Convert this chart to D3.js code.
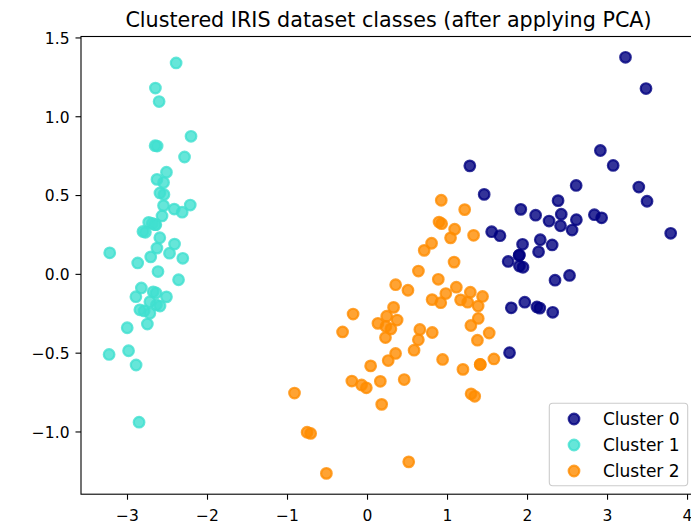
<!DOCTYPE html>
<html>
<head>
<meta charset="utf-8">
<script src="https://cdn.jsdelivr.net/npm/d3@7"></script>
<style>
  html, body { margin: 0; padding: 0; background: #fff; }
  svg { display: block; }
  text { font-family: "DejaVu Sans", sans-serif; fill: #000; }
</style>
</head>
<body>
<svg id="chart" width="691" height="525"></svg>
<script>
// ---- Data (PCA components of IRIS, grouped by k-means cluster) ----
const cluster0 = [
  [1.28482569, 0.68516047], [1.46430232, 0.50426282], [1.55780216, 0.26749545],
  [2.53119273, -0.00984911], [2.61667602, 0.34390315], [1.97153105, -0.1797279],
  [2.35000592, -0.04026095], [3.39703874, 0.55083667], [2.93258707, 0.3555],
  [2.32122882, -0.2438315], [2.91675097, 0.78279195], [1.66177415, 0.24222841],
  [1.80340195, -0.21563762], [2.1655918, 0.21627559], [1.90445637, 0.11925069],
  [1.94968906, 0.04194326], [3.48705536, 1.17573933], [3.79564542, 0.25732297],
  [2.42781791, 0.37819601], [3.49992004, 0.4606741], [2.2754305, 0.33499061],
  [2.61409047, 0.56090136], [2.12360872, -0.20972948], [2.38800302, 0.4646398],
  [2.84167278, 0.37526917], [3.23067366, 1.37416509], [2.15943764, -0.21727758],
  [1.78129481, -0.49990168], [3.07649993, 0.68808568], [2.14424331, 0.1400642],
  [1.90509815, 0.04930053], [2.10761114, 0.37228787], [2.31415471, 0.18365128],
  [1.9222678, 0.40920347], [2.56301338, 0.2778626], [2.41874618, 0.3047982],
  [1.94410979, 0.1875323], [1.76434572, 0.07885885], [1.90094161, 0.11662796]
];
const cluster1 = [
  [-2.68412563, 0.31939725], [-2.71414169, -0.17700123], [-2.88899057, -0.14494943],
  [-2.74534286, -0.31829898], [-2.72871654, 0.32675451], [-2.28085963, 0.74133045],
  [-2.82053775, -0.08946138], [-2.62614497, 0.16338496], [-2.88638273, -0.57831175],
  [-2.6727558, -0.11377425], [-2.50694709, 0.6450689], [-2.61275523, 0.01472994],
  [-2.78610927, -0.235112], [-3.22380374, -0.51139459], [-2.64475039, 1.17876464],
  [-2.38603903, 1.33806233], [-2.62352788, 0.81067951], [-2.64829671, 0.31184914],
  [-2.19982032, 0.87283904], [-2.5879864, 0.51356031], [-2.31025622, 0.39134594],
  [-2.54370523, 0.43299606], [-3.21593942, 0.13346807], [-2.30273318, 0.09870885],
  [-2.35575405, -0.03728186], [-2.50666891, -0.14601688], [-2.46882007, 0.13095149],
  [-2.56231991, 0.36771886], [-2.63953472, 0.31203998], [-2.63198939, -0.19696122],
  [-2.58739848, -0.20431849], [-2.4099325, 0.41092426], [-2.64886233, 0.81336382],
  [-2.59873675, 1.09314576], [-2.63692688, -0.12132235], [-2.86624165, 0.06936447],
  [-2.62523805, 0.59937002], [-2.80068412, 0.26864374], [-2.98050204, -0.48795834],
  [-2.59000631, 0.22904384], [-2.77010243, 0.26352753], [-2.84936871, -0.94096057],
  [-2.99740655, -0.34192606], [-2.40561449, 0.18887143], [-2.20948924, 0.43666314],
  [-2.71445143, -0.2502082], [-2.53814826, 0.50377114], [-2.83946217, -0.22794557],
  [-2.54308575, 0.57941002], [-2.70335978, 0.10770608]
];
const cluster2 = [
  [0.93248853, 0.31833364], [0.18331772, -0.82795901], [1.08810326, 0.07459068],
  [0.64166908, -0.41824687], [1.09506066, 0.28346827], [-0.74912267, -1.00489096],
  [1.04413183, 0.2283619], [-0.0087454, -0.72308191], [-0.50784088, -1.26597119],
  [0.51169856, -0.10398124], [0.26497651, -0.55003646], [0.98493451, -0.12481785],
  [-0.17392537, -0.25485421], [0.92786078, 0.46717949], [0.66028376, -0.35296967],
  [0.23610499, -0.33361077], [0.94473373, -0.54314555], [0.04522698, -0.58383438],
  [1.11628318, -0.08461685], [0.35788842, -0.06892503], [1.29818388, -0.32778731],
  [0.92172892, -0.18273779], [0.71485333, 0.14905594], [0.90017437, 0.32850447],
  [1.33202444, 0.24444088], [0.81329065, -0.1633503], [-0.30558378, -0.36826219],
  [-0.06812649, -0.70517213], [-0.18962247, -0.68028676], [0.13642871, -0.31403244],
  [1.38002644, -0.42095429], [0.58800644, -0.48428742], [0.80685831, 0.19418231],
  [1.22069088, 0.40761959], [0.81509524, -0.37203706], [0.24595768, -0.2685244],
  [0.16641322, -0.68192672], [0.46480029, -0.67071154], [0.8908152, -0.03446444],
  [0.23054802, -0.40438585], [-0.70453176, -1.01224823], [0.35698149, -0.50491009],
  [0.33193448, -0.21265468], [0.37621565, -0.29321893], [0.64257601, 0.01773819],
  [-0.90646986, -0.75609337], [0.29900084, -0.34889781],
  [1.41523588, -0.57491635], [0.52123224, -1.19275873], [1.34616358, -0.77681835],
  [1.58592822, -0.53964071], [1.30079171, -0.76114964], [1.19900111, -0.60609153],
  [1.38876613, -0.20439933], [1.25850816, -0.17970479], [1.29113206, -0.11666865],
  [1.44416124, -0.14341341], [1.16932634, -0.16499026], [1.41523588, -0.57491635],
  [1.52716661, -0.37531698], [1.39018886, -0.28266094]
];
const clusterNames = ["Cluster 0", "Cluster 1", "Cluster 2"];
const clusterColors = ["#000080", "#40e0d0", "#ff8c00"];
const xTicks = [-3, -2, -1, 0, 1, 2, 3, 4];
const yTicks = [-1.0, -0.5, 0.0, 0.5, 1.0, 1.5];
const title = "Clustered IRIS dataset classes (after applying PCA)";

// ---- Layout ----
const svg = d3.select("#chart");
const L = 81, R = 698.8, T = 36.5, B = 494.2;
const x = d3.scaleLinear().domain([-3.575, 4.147]).range([L, R]);
const y = d3.scaleLinear().domain([-1.398, 1.506]).range([B, T]);

const fmtMinus = s => s.replace("-", "\u2212");
const R_MARK = 5.3, SW_MARK = 2.2;

// Points
const groups = [cluster0, cluster1, cluster2];
groups.forEach((pts, i) => {
  svg.append("g").selectAll("circle").data(pts).enter().append("circle")
    .attr("cx", d => x(d[0])).attr("cy", d => y(d[1]))
    .attr("r", R_MARK)
    .attr("fill", clusterColors[i]).attr("fill-opacity", 0.8)
    .attr("stroke", clusterColors[i]).attr("stroke-opacity", 0.8)
    .attr("stroke-width", SW_MARK);
});

// Axes
const xAxis = d3.axisBottom(x).tickValues(xTicks).tickSize(5.5).tickPadding(9.5)
  .tickFormat(d => fmtMinus(d3.format("d")(d)));
const yAxis = d3.axisLeft(y).tickValues(yTicks).tickSize(5.5).tickPadding(6)
  .tickFormat(d => fmtMinus(d3.format(".1f")(d)));

const gx = svg.append("g").attr("transform", `translate(0,${B})`).call(xAxis);
const gy = svg.append("g").attr("transform", `translate(${L},0)`).call(yAxis);
[gx, gy].forEach(g => {
  g.select(".domain").remove();
  g.selectAll(".tick line").attr("stroke", "#000").attr("stroke-width", 1.1);
  g.selectAll(".tick text").attr("font-family", "DejaVu Sans").attr("font-size", 15.5).attr("fill", "#000");
});
gx.selectAll(".tick text").attr("dy", 0).attr("y", 520.7 - B);
gy.selectAll(".tick text").attr("dy", "0.38em");

// Spines
svg.append("rect").attr("x", L).attr("y", T).attr("width", R - L).attr("height", B - T)
  .attr("fill", "none").attr("stroke", "#000").attr("stroke-width", 1.1);

// Title
svg.append("text").attr("x", 388.5).attr("y", 27)
  .attr("text-anchor", "middle").attr("font-size", 20.7).text(title);

// Legend
const lg = svg.append("g");
lg.append("rect").attr("x", 549.3).attr("y", 403.3).attr("width", 138.4).attr("height", 82.4)
  .attr("rx", 3.4).attr("fill", "#fff").attr("fill-opacity", 0.8)
  .attr("stroke", "#cccccc").attr("stroke-width", 1.1);
clusterNames.forEach((name, i) => {
  const cy = 419 + i * 26;
  lg.append("circle").attr("cx", 574).attr("cy", cy).attr("r", R_MARK)
    .attr("fill", clusterColors[i]).attr("fill-opacity", 0.8)
    .attr("stroke", clusterColors[i]).attr("stroke-opacity", 0.8).attr("stroke-width", SW_MARK);
  lg.append("text").attr("x", 603).attr("y", cy).attr("dy", "0.36em")
    .attr("font-size", 17).text(name);
});
</script>
</body>
</html>
